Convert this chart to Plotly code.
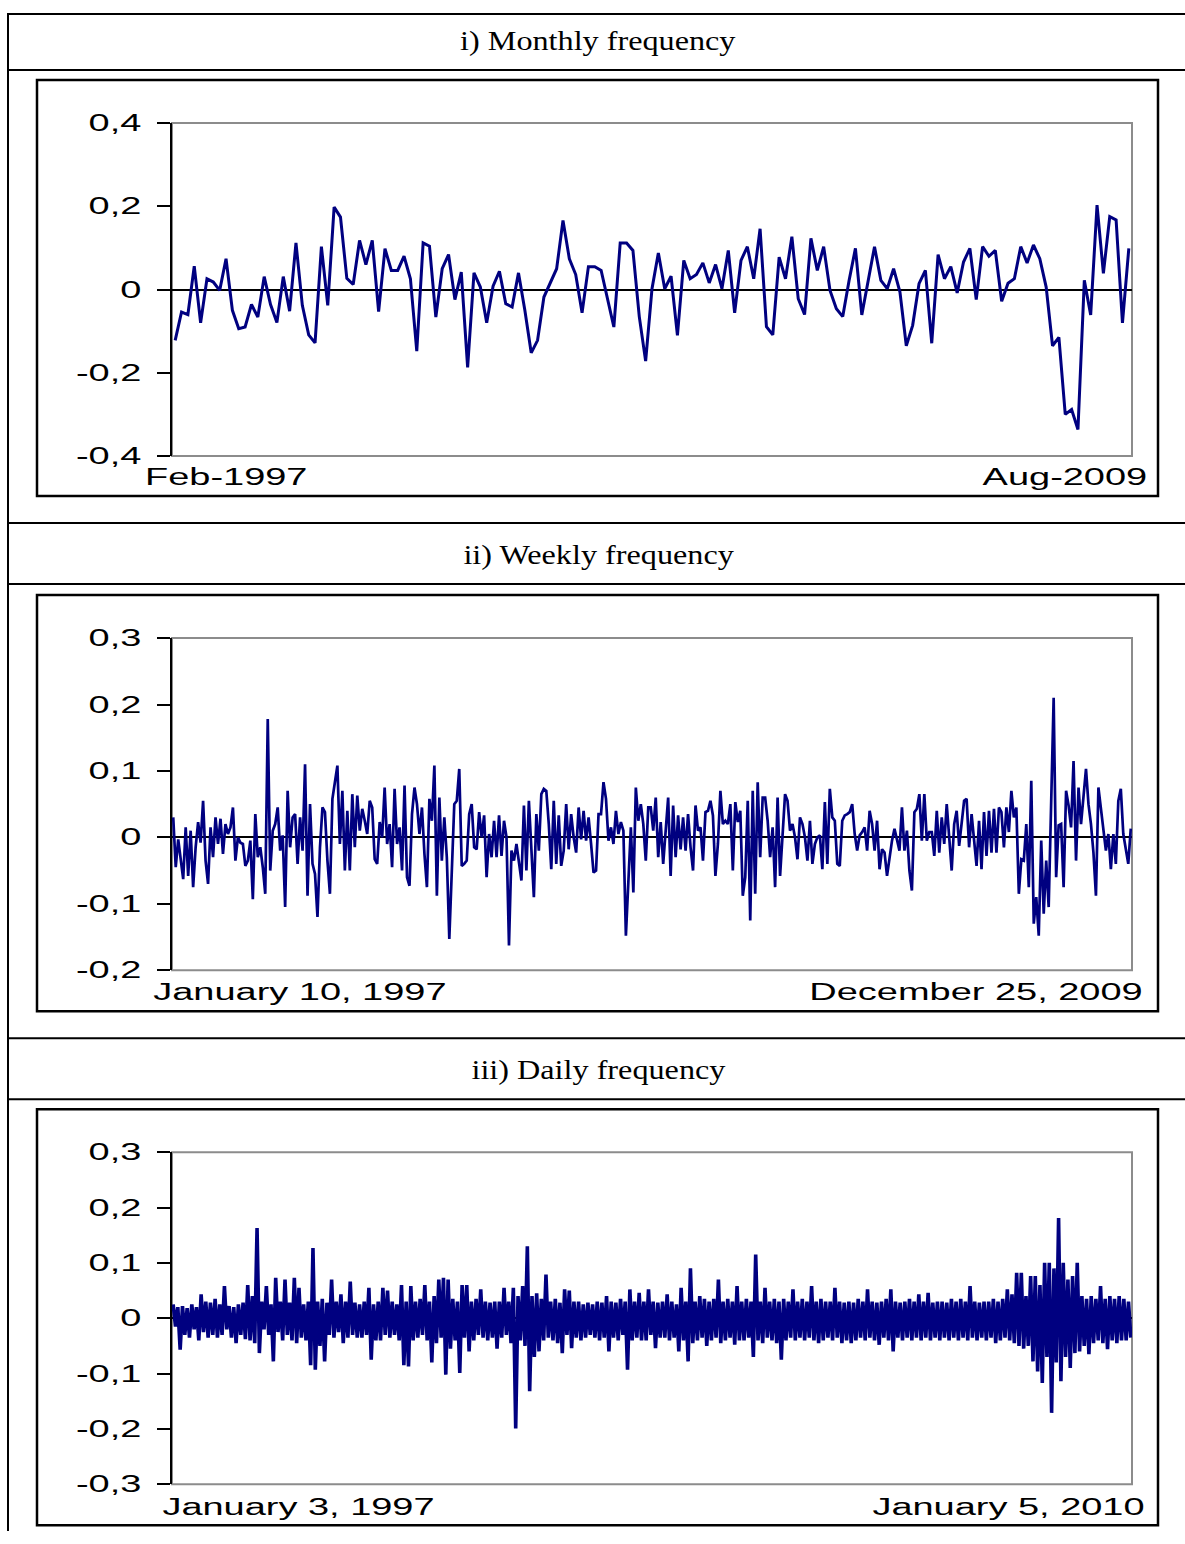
import plotly.graph_objects as go

W, H = 1185, 1544

# ---------------- data ----------------
panel_titles = ["i) Monthly frequency", "ii) Weekly frequency", "iii) Daily frequency"]
first_labels = ["Feb-1997", "January 10, 1997", "January 3, 1997"]
last_labels = ["Aug-2009", "December 25, 2009", "January 5, 2010"]

y_ticks_monthly = [-0.4, -0.2, 0, 0.2, 0.4]
y_text_monthly = ["-0,4", "-0,2", "0", "0,2", "0,4"]
y_ticks_weekly = [-0.2, -0.1, 0, 0.1, 0.2, 0.3]
y_text_weekly = ["-0,2", "-0,1", "0", "0,1", "0,2", "0,3"]
y_ticks_daily = [-0.3, -0.2, -0.1, 0, 0.1, 0.2, 0.3]
y_text_daily = ["-0,3", "-0,2", "-0,1", "0", "0,1", "0,2", "0,3"]

monthly_growth = [
    -0.122, -0.054, -0.060, 0.056, -0.080, 0.026, 0.018, -0.002, 0.074, -0.050,
    -0.094, -0.090, -0.036, -0.066, 0.031, -0.036, -0.079, 0.031, -0.052, 0.112,
    -0.038, -0.109, -0.128, 0.103, -0.038, 0.198, 0.174, 0.027, 0.012, 0.118,
    0.060, 0.118, -0.053, 0.098, 0.046, 0.046, 0.080, 0.026, -0.148, 0.112,
    0.104, -0.066, 0.050, 0.084, -0.024, 0.042, -0.187, 0.040, 0.006, -0.080,
    0.008, 0.044, -0.034, -0.042, 0.040, -0.050, -0.152, -0.122, -0.018, 0.018,
    0.050, 0.166, 0.074, 0.036, -0.056, 0.055, 0.055, 0.046, -0.025, -0.090,
    0.112, 0.112, 0.094, -0.065, -0.172, 0.002, 0.088, 0.002, 0.032, -0.110,
    0.070, 0.026, 0.036, 0.064, 0.016, 0.060, 0.002, 0.094, -0.056, 0.070,
    0.103, 0.026, 0.146, -0.089, -0.109, 0.078, 0.026, 0.127, -0.022, -0.060,
    0.123, 0.046, 0.103, -0.002, -0.046, -0.065, 0.022, 0.099, -0.061, 0.022,
    0.103, 0.022, 0.002, 0.050, -0.006, -0.135, -0.086, 0.014, 0.046, -0.129,
    0.084, 0.026, 0.055, -0.008, 0.066, 0.099, -0.024, 0.103, 0.080, 0.094,
    -0.028, 0.015, 0.026, 0.103, 0.064, 0.107, 0.074, 0.006, -0.135, -0.115,
    -0.300, -0.288, -0.336, 0.022, -0.061, 0.203, 0.039, 0.175, 0.167, -0.080,
    0.099,
]

weekly_growth = [
    0.030, -0.045, -0.003, -0.035, -0.063, 0.015, -0.058, 0.010, -0.075, -0.015,
    0.023, -0.008, 0.055, -0.035, -0.070, 0.015, -0.030, 0.030, -0.010, 0.028,
    -0.025, 0.020, 0.005, 0.015, 0.045, -0.035, 0.000, -0.008, -0.010, -0.043,
    -0.035, -0.005, -0.093, 0.035, -0.030, -0.015, -0.045, -0.085, 0.178, -0.050,
    0.010, 0.020, 0.045, -0.020, 0.003, -0.105, 0.070, -0.015, 0.030, 0.035,
    -0.040, 0.030, -0.020, 0.110, -0.088, 0.050, -0.040, -0.055, -0.120, -0.015,
    0.045, 0.038, -0.035, -0.085, 0.058, 0.083, 0.108, -0.010, 0.070, -0.050,
    0.040, -0.050, 0.065, -0.015, 0.063, 0.010, 0.043, 0.025, 0.005, 0.055,
    0.045, -0.033, -0.040, 0.023, 0.000, 0.075, -0.010, 0.020, -0.045, 0.073,
    -0.010, 0.015, -0.050, 0.078, -0.060, -0.073, 0.035, 0.075, 0.050, 0.005,
    0.045, -0.025, -0.075, 0.058, 0.025, 0.108, -0.088, 0.060, -0.035, 0.030,
    -0.030, -0.153, -0.055, 0.050, 0.055, 0.103, -0.043, -0.040, -0.035, 0.035,
    0.050, -0.015,
    -0.018, 0.038, 0.000, 0.033, -0.060, 0.005, -0.030, 0.025, -0.030, 0.033,
    -0.028, 0.025, 0.000, -0.163, -0.020, -0.035, -0.010, -0.040, -0.065, 0.048,
    -0.050, 0.055, -0.015, -0.090, 0.035, -0.020, 0.065, 0.073, 0.070, 0.020,
    -0.048, 0.055, -0.040, 0.033, -0.043, -0.020, 0.050, -0.018, 0.035, 0.000,
    -0.023, 0.045, -0.003, 0.040, -0.005, 0.030, -0.010, -0.053, -0.050, 0.035,
    0.035, 0.083, 0.058, -0.005, 0.015, -0.010, 0.040, 0.005, 0.023, 0.010,
    -0.148, -0.065, 0.015, -0.083, 0.075, 0.025, 0.050, 0.020, -0.035, 0.045,
    0.045, 0.010, 0.060, -0.030, 0.023, -0.040, 0.010, 0.060, -0.058, 0.048,
    -0.030, 0.033, -0.018, 0.030, -0.020, 0.035, -0.015, -0.050, 0.048, 0.010,
    0.015, -0.035, 0.038, 0.040, 0.055, 0.033, -0.058, -0.010, 0.070, 0.020,
    0.025, 0.020, 0.050, -0.050, 0.053, 0.023, 0.040, -0.088, -0.060, 0.055,
    -0.125, 0.070, -0.085, 0.083, -0.030, 0.060, 0.060, 0.025, -0.030, 0.015,
    -0.075, 0.060, -0.058, 0.000, 0.065, 0.055, 0.010, 0.020, 0.000, -0.033,
    0.030, 0.020, 0.000,
    -0.035, 0.025, -0.040, -0.010, 0.000, 0.003, -0.048, 0.053, -0.040, 0.073,
    0.030, 0.025, -0.040, -0.043, 0.025, 0.033, 0.035, 0.038, 0.050, 0.005,
    -0.020, 0.003, 0.008, 0.015, -0.020, 0.040, 0.020, -0.020, 0.025, -0.048,
    -0.018, -0.023, -0.058, -0.030, -0.005, 0.013, -0.005, -0.020, 0.045, -0.020,
    0.010, -0.050, -0.080, 0.038, 0.043, 0.065, -0.005, 0.065, -0.005, 0.008,
    0.008, -0.028, 0.040, -0.023, 0.030, -0.010, 0.050, 0.000, -0.050, 0.020,
    0.040, -0.013, 0.020, 0.055, 0.058, -0.015, 0.035, -0.010, -0.043, 0.025,
    -0.048, 0.038, -0.028, 0.040, -0.023, 0.043, -0.023, 0.045, 0.038, -0.015,
    0.045, 0.008, 0.070, 0.030, 0.045, -0.085, -0.033, -0.035, 0.020, -0.075,
    0.085, -0.130, -0.090, -0.148, -0.005, -0.115, -0.035, -0.105, 0.070, 0.210,
    -0.060, 0.018, 0.020, -0.075, 0.070, 0.048, 0.015, 0.115, -0.035, 0.075,
    0.020, 0.060, 0.103, 0.050, 0.020, -0.023, -0.088, 0.075, 0.045, 0.010,
    -0.020, 0.005, -0.048, 0.005, -0.040, 0.055, 0.073, 0.005, -0.015, -0.040,
    0.013,
]

daily_growth = [
    0.025, -0.015, 0.020, -0.057, 0.022, -0.030, 0.018, -0.035, 0.025, -0.020,
    0.020, -0.040, 0.043, -0.025, 0.030, -0.035, 0.028, -0.030, 0.035, -0.035,
    0.025, -0.030, 0.058, -0.020, 0.022, -0.035, 0.020, -0.045, 0.025, -0.030,
    0.028, -0.038, 0.060, -0.040, 0.040, -0.045, 0.163, -0.063, 0.030, -0.020,
    0.058, -0.030, 0.025, -0.078, 0.073, -0.025, 0.030, -0.040, 0.070, -0.030,
    0.028, -0.040, 0.073, -0.045, 0.055, -0.035, 0.025, -0.040, 0.030, -0.085,
    0.127, -0.093, 0.030, -0.050, 0.035, -0.078, 0.028, -0.030, 0.070, -0.035,
    0.030, -0.025, 0.043, -0.045, 0.030, -0.035, 0.066, -0.030, 0.028, -0.035,
    0.025, -0.035, 0.030, -0.030, 0.055, -0.075, 0.025, -0.040, 0.030, -0.040,
    0.055, -0.030, 0.050, -0.035, 0.030, -0.030, 0.025, -0.040, 0.060, -0.085,
    0.030, -0.087, 0.058, -0.040, 0.030, -0.035, 0.035, -0.030, 0.060, -0.040,
    0.030, -0.080, 0.040, -0.045, 0.070, -0.035, 0.073, -0.102, 0.070, -0.055,
    0.035, -0.040, 0.030, -0.099, 0.060, -0.035, 0.060, -0.060, 0.030, -0.040,
    0.035, -0.030, 0.052, -0.035, 0.030, -0.040, 0.028, -0.035, 0.030, -0.055,
    0.030, -0.035, 0.055, -0.030, 0.030, -0.045, 0.055, -0.199, 0.040, -0.040,
    0.058, -0.050, 0.130, -0.132, 0.040, -0.070, 0.045, -0.060, 0.035, -0.040,
    0.079, -0.035, 0.030, -0.040, 0.035, -0.045, 0.028, -0.063, 0.052, -0.030,
    0.050, -0.054, 0.030, -0.035, 0.030, -0.040, 0.025, -0.035, 0.028, -0.030,
    0.025, -0.035, 0.030, -0.040, 0.028, -0.035, 0.040, -0.060, 0.030, -0.035,
    0.028, -0.040, 0.035, -0.030, 0.030, -0.093, 0.052, -0.040, 0.030, -0.035,
    0.046, -0.040, 0.030, -0.040, 0.052, -0.030, 0.030, -0.054, 0.028, -0.035,
    0.030, -0.035, 0.043, -0.040, 0.030, -0.035, 0.025, -0.060, 0.055, -0.040,
    0.030, -0.078, 0.090, -0.045, 0.030, -0.040, 0.040, -0.035, 0.035, -0.050,
    0.030, -0.040, 0.035, -0.035, 0.070, -0.045, 0.030, -0.040, 0.035, -0.035,
    0.030, -0.048, 0.058, -0.040, 0.030, -0.040, 0.035, -0.035, 0.030, -0.070,
    0.115, -0.040, 0.030, -0.045, 0.055, -0.035, 0.030, -0.040, 0.035, -0.045,
    0.030, -0.075, 0.035, -0.040, 0.030, -0.035, 0.052, -0.040, 0.030, -0.035,
    0.035, -0.040, 0.030, -0.035, 0.058, -0.040, 0.030, -0.045, 0.035, -0.040,
    0.030, -0.035, 0.030, -0.040, 0.055, -0.035, 0.030, -0.045, 0.028, -0.040,
    0.030, -0.045, 0.028, -0.040, 0.035, -0.035, 0.030, -0.040, 0.052, -0.035,
    0.030, -0.040, 0.028, -0.048, 0.030, -0.035, 0.035, -0.040, 0.052, -0.060,
    0.030, -0.035, 0.028, -0.040, 0.030, -0.035, 0.035, -0.040, 0.030, -0.035,
    0.043, -0.040, 0.030, -0.035, 0.046, -0.040, 0.028, -0.035, 0.030, -0.040,
    0.030, -0.035, 0.028, -0.040, 0.035, -0.035, 0.030, -0.040, 0.035, -0.035,
    0.030, -0.040, 0.058, -0.035, 0.030, -0.040, 0.028, -0.035, 0.030, -0.040,
    0.030, -0.035, 0.035, -0.045, 0.030, -0.040, 0.035, -0.035, 0.052, -0.040,
    0.043, -0.045, 0.082, -0.050, 0.082, -0.055, 0.040, -0.050, 0.076, -0.078,
    0.076, -0.096, 0.060, -0.117, 0.100, -0.070, 0.100, -0.171, 0.090, -0.080,
    0.181, -0.114, 0.100, -0.070, 0.070, -0.090, 0.076, -0.063, 0.100, -0.060,
    0.040, -0.050, 0.035, -0.065, 0.040, -0.045, 0.035, -0.040, 0.058, -0.045,
    0.035, -0.056, 0.040, -0.040, 0.035, -0.045, 0.040, -0.040, 0.035, -0.040,
    0.030, -0.035,
]

# ---------------- layout geometry (pixels of the reference page) ----------------
Y_OFF = 12.0      # offset / scale that map figure pixels onto the photographed page
Y_SCALE = 0.983


def fx(x):
    return x / W


def fy(y):
    return 1 - (y - Y_OFF) / (Y_SCALE * H)


panels = [
    dict(vals=monthly_growth, tv=y_ticks_monthly, tt=y_text_monthly, rng=[-0.4, 0.4],
         top=122, bot=455, head=39, box=(79, 495), lab_y=476, lab_x=(226, 1065), lw=3),
    dict(vals=weekly_growth, tv=y_ticks_weekly, tt=y_text_weekly, rng=[-0.2, 0.3],
         top=637, bot=969, head=553, box=(594, 1010), lab_y=991, lab_x=(300, 976), lw=2.7),
    dict(vals=daily_growth, tv=y_ticks_daily, tt=y_text_daily, rng=[-0.3, 0.3],
         top=1151, bot=1483, head=1068, box=(1108, 1524), lab_y=1506, lab_x=(298, 1008), lw=3.6),
]

PLOT_L, PLOT_R = 172, 1132
NAVY = "#000080"
SANS = "Liberation Sans"
SERIF = "Liberation Serif"

fig = go.Figure()
shapes = []
annotations = []

# table rules
shapes.append(dict(type="line", xref="paper", yref="paper", x0=fx(8), x1=1.0,
                   y0=1 - 1.0 / H, y1=1 - 1.0 / H, line=dict(color="black", width=2)))
for yy in [69, 522, 583, 1037, 1098]:
    shapes.append(dict(type="line", xref="paper", yref="paper", x0=fx(8), x1=1.0,
                       y0=fy(yy), y1=fy(yy), line=dict(color="black", width=2)))
shapes.append(dict(type="line", xref="paper", yref="paper", x0=fx(8), x1=fx(8),
                   y0=1.0, y1=0.0, line=dict(color="black", width=2)))

for i, p in enumerate(panels):
    k = "" if i == 0 else str(i + 1)
    n = len(p["vals"])
    fig.add_trace(go.Scatter(x=list(range(n)), y=p["vals"], mode="lines",
                             line=dict(color=NAVY, width=p["lw"]),
                             xaxis="x" + k, yaxis="y" + k, hoverinfo="skip"))
    fig.update_layout(**{
        "xaxis" + k: dict(domain=[fx(PLOT_L), fx(PLOT_R)], range=[-0.5, n - 0.5],
                          showticklabels=False, showgrid=False, zeroline=False,
                          showline=False, ticks="", anchor="y" + k),
        "yaxis" + k: dict(domain=[fy(p["bot"]), fy(p["top"])], range=p["rng"],
                          tickvals=p["tv"], ticktext=p["tt"], ticks="outside",
                          ticklen=13, tickwidth=2, tickcolor="black",
                          showline=True, linecolor="black", linewidth=2,
                          showgrid=False, zeroline=True, zerolinecolor="black",
                          zerolinewidth=1.5, ticklabelstandoff=11,
                          tickfont=dict(family=SANS, size=23, color="black"),
                          anchor="x" + k),
    })
    # gray plot frame
    shapes.append(dict(type="rect", xref="x%s domain" % k, yref="y%s domain" % k,
                       x0=0, x1=1, y0=0, y1=1, layer="below",
                       line=dict(color="#8c8c8c", width=2)))
    # inner chart box
    shapes.append(dict(type="rect", xref="paper", yref="paper", x0=fx(37), x1=fx(1158),
                       y0=fy(p["box"][1]), y1=fy(p["box"][0]),
                       line=dict(color="black", width=2.5)))
    annotations.append(dict(text=panel_titles[i], xref="paper", yref="paper",
                            x=fx(598), y=fy(p["head"]), showarrow=False,
                            xanchor="center", yanchor="middle",
                            font=dict(family=SERIF, size=28, color="black")))
    for lab, lx in zip([first_labels[i], last_labels[i]], p["lab_x"]):
        annotations.append(dict(text=lab, xref="paper", yref="paper",
                                x=fx(lx), y=fy(p["lab_y"]), showarrow=False,
                                xanchor="center", yanchor="middle",
                                font=dict(family=SANS, size=23, color="black")))

fig.update_layout(width=W, height=H, margin=dict(l=0, r=0, t=0, b=0),
                  paper_bgcolor="white", plot_bgcolor="white", showlegend=False,
                  shapes=shapes, annotations=annotations)

post = """
document.body.style.margin = '0';
var gd = document.getElementsByClassName('plotly-graph-div')[0];
gd.querySelectorAll('text').forEach(function(t){
  var fam = t.style.fontFamily || '';
  var f = fam.indexOf('Serif') >= 0 ? 1.15 : 1.65;
  var L = t.getComputedTextLength();
  if (L > 0) {
    t.setAttribute('textLength', (L * f).toFixed(2));
    t.setAttribute('lengthAdjust', 'spacingAndGlyphs');
  }
});
"""

fig.write_html("out.html", config={"displayModeBar": False}, post_script=post)
